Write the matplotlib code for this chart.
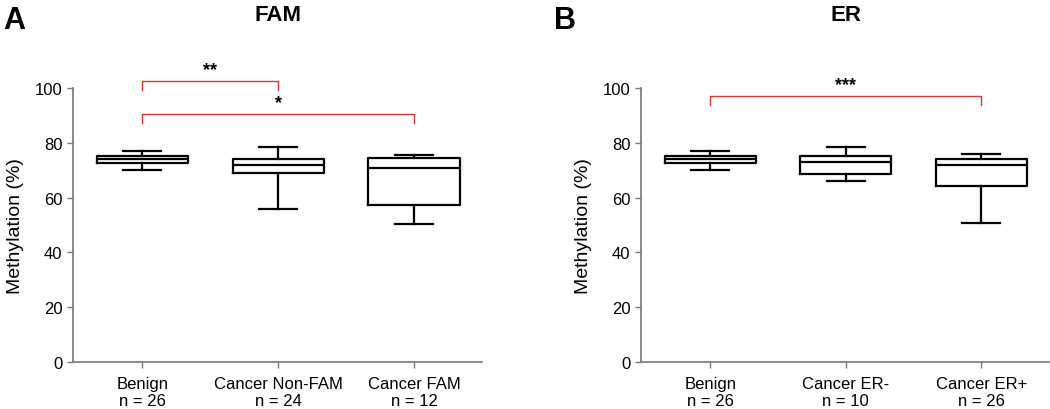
import matplotlib
matplotlib.use('Agg')
import matplotlib.pyplot as plt

plt.rcParams['font.family'] = ['Liberation Sans', 'DejaVu Sans']

# panel A: FAM
fam_labels = ['Benign\nn = 26', 'Cancer Non-FAM\nn = 24', 'Cancer FAM\nn = 12']
fam_whislo = [70.0, 55.8, 50.4]
fam_q1 = [72.6, 69.0, 57.4]
fam_med = [74.0, 72.0, 71.0]
fam_q3 = [75.3, 74.1, 74.6]
fam_whishi = [77.1, 78.6, 75.7]
# brackets: (from, to, y, stars)
fam_sig = [(1, 2, 102.6, '**'), (1, 3, 90.5, '*')]

# panel B: ER
er_labels = ['Benign\nn = 26', 'Cancer ER-\nn = 10', 'Cancer ER+\nn = 26']
er_whislo = [70.0, 66.0, 50.6]
er_q1 = [72.5, 68.7, 64.4]
er_med = [74.0, 73.1, 72.0]
er_q3 = [75.3, 75.3, 74.1]
er_whishi = [77.1, 78.6, 75.8]
er_sig = [(1, 3, 97.0, '***')]

fig = plt.figure(figsize=(10.5, 4.1), dpi=100)
ax_bottom, ax_height = 0.1146, 0.668
ax1 = fig.add_axes([0.0695, ax_bottom, 0.3895, ax_height])
ax2 = fig.add_axes([0.6105, ax_bottom, 0.3885, ax_height])


def draw_panel(ax, labels, lo, q1, med, q3, hi, sig, title):
    stats = []
    for i in range(len(labels)):
        stats.append(dict(whislo=lo[i], q1=q1[i], med=med[i], q3=q3[i], whishi=hi[i], fliers=[]))
    lw = 1.6
    ax.bxp(stats, positions=[1, 2, 3], widths=0.67, showfliers=False,
           boxprops=dict(color='black', linewidth=lw),
           medianprops=dict(color='black', linewidth=lw),
           whiskerprops=dict(color='black', linewidth=lw),
           capprops=dict(color='black', linewidth=lw),
           capwidths=0.28)
    ax.set_xlim(0.49, 3.5)
    ax.set_ylim(0, 100)
    ax.set_yticks([0, 20, 40, 60, 80, 100])
    ax.set_xticks([1, 2, 3])
    ax.set_xticklabels(labels)
    for s in ['top', 'right']:
        ax.spines[s].set_visible(False)
    for s in ['left', 'bottom']:
        ax.spines[s].set_color('#777777')
        ax.spines[s].set_linewidth(1.2)
    ax.tick_params(direction='out', length=4, width=1, color='#777777', labelsize=12)
    ax.tick_params(axis='x', pad=6)
    ax.set_ylabel('Methylation (%)', fontsize=14, labelpad=8)
    for a, b, y, stars in sig:
        ax.plot([a, a, b, b], [y - 3.1, y, y, y - 3.1], color='#d9383a', linewidth=1.0, clip_on=False)
        ax.text((a + b) / 2, y + 1.2, stars, ha='center', va='bottom', fontsize=13, fontweight='bold')
    # panel title sits near the top of the figure (y=0.963 in figure fraction)
    ax.text(2, (0.963 - ax_bottom) / ax_height, title, transform=ax.get_xaxis_transform(),
            ha='center', va='center', fontsize=16, fontweight='bold', clip_on=False)


draw_panel(ax1, fam_labels, fam_whislo, fam_q1, fam_med, fam_q3, fam_whishi, fam_sig, 'FAM')
draw_panel(ax2, er_labels, er_whislo, er_q1, er_med, er_q3, er_whishi, er_sig, 'ER')

fig.text(0.003, 0.985, 'A', fontsize=22, fontweight='bold', va='top', ha='left')
fig.text(0.528, 0.985, 'B', fontsize=22, fontweight='bold', va='top', ha='left')

fig.savefig('out.png', dpi=100)
